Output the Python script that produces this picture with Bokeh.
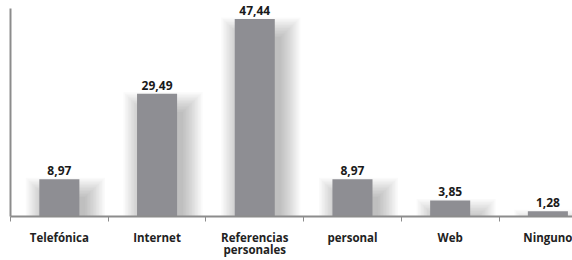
from bokeh.plotting import figure
from bokeh.models import Range1d, FixedTicker, ColumnDataSource
from bokeh.embed import file_html
from bokeh.resources import INLINE
from bokeh.core.properties import value

categories = ["Telefónica", "Internet", "Referencias\npersonales", "personal", "Web", "Ninguno"]
values = [8.97, 29.49, 47.44, 8.97, 3.85, 1.28]
value_labels = ["8,97", "29,49", "47,44", "8,97", "3,85", "1,28"]

centers = [i + 0.5 for i in range(len(categories))]
bar_w = 0.41
y_max = 50

# pixel -> data helpers (frame ~ 97.7 px per category, ~4.18 px per unit)
px_x = 1 / 97.7
px_y = 1 / 4.18

p = figure(width=572, height=260, output_backend="svg", toolbar_location=None,
           x_range=Range1d(0, 5.752), y_range=Range1d(0, y_max + 8 * px_y),
           min_border_left=10, min_border_right=0, min_border_top=0,
           min_border_bottom=43)
p.grid.visible = False
p.outline_line_color = None

# soft shadow layers
for k in range(14):
    e = k * 1.5
    src = ColumnDataSource(dict(
        left=[c - bar_w / 2 + 6 * px_x - e * px_x for c in centers],
        right=[c + bar_w / 2 + 6 * px_x + e * px_x for c in centers],
        top=[v - 18 * px_y + e * px_y for v in values],
        bottom=[0 for v in values],
    ))
    p.quad(left="left", right="right", top="top", bottom="bottom", source=src,
           fill_color="#555555", fill_alpha=0.026, line_color=None)

src = ColumnDataSource(dict(x=centers, top=values, lab=value_labels))
p.vbar(x="x", top="top", width=bar_w, bottom=0, source=src,
       fill_color="#8e8e93", line_color=None)
p.text(x="x", y="top", text="lab", source=src, y_offset=-4,
       text_align="center", text_baseline="bottom",
       text_font=value("Open Sans"), text_font_style="bold",
       text_font_size="12px", text_color="#1a1a1a")

xa = p.xaxis[0]
xa.ticker = FixedTicker(ticks=centers, minor_ticks=list(range(len(categories) + 1)))
xa.major_label_overrides = {c: lab for c, lab in zip(centers, categories)}
xa.major_tick_line_color = None
xa.major_tick_out = 0
xa.major_tick_in = 0
xa.minor_tick_line_color = "#8c8c8c"
xa.minor_tick_out = 5
xa.minor_tick_in = 0
xa.axis_line_color = "#8c8c8c"
xa.axis_line_width = 2
xa.major_label_standoff = 8
xa.major_label_text_font = "Open Sans"
xa.major_label_text_font_style = "bold"
xa.major_label_text_font_size = "11.5px"
xa.major_label_text_line_height = 0.85
xa.major_label_text_color = "#222222"

ya = p.yaxis[0]
ya.ticker = FixedTicker(ticks=[])
ya.bounds = (0, y_max)
ya.major_tick_line_color = None
ya.minor_tick_line_color = None
ya.major_tick_out = 0
ya.major_label_text_font_size = "0px"
ya.major_label_standoff = 0
ya.axis_line_color = "#8c8c8c"
ya.axis_line_width = 2

open("out.html", "w").write(file_html(p, INLINE))
